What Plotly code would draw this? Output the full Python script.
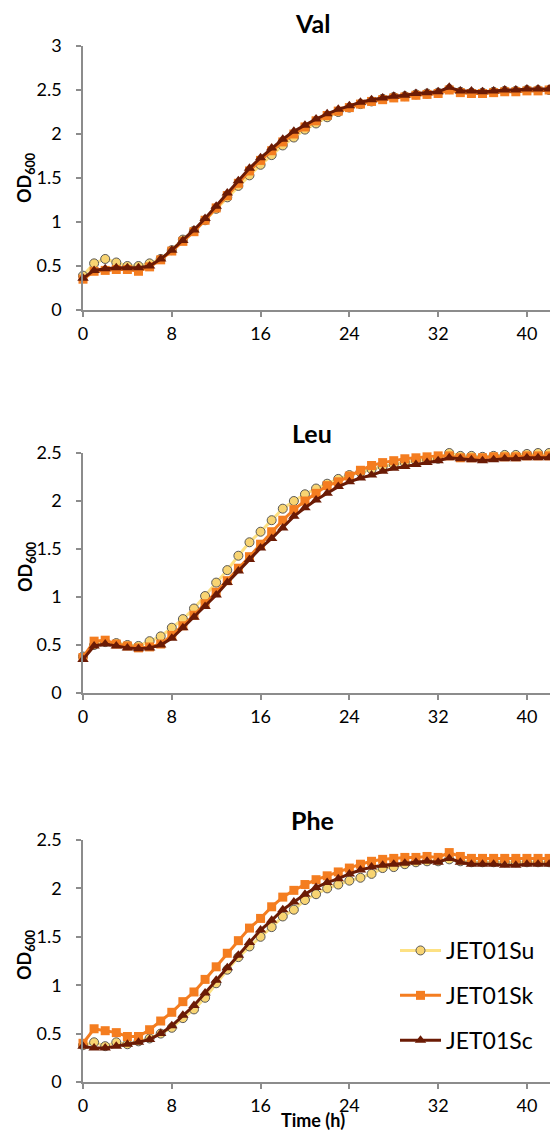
import plotly.graph_objects as go

hours = list(range(0, 44))

# OD600 readings
val_su = [0.39, 0.53, 0.58, 0.54, 0.50, 0.50, 0.53, 0.58, 0.68, 0.80,
          0.90, 1.02, 1.15, 1.28, 1.41, 1.53, 1.65, 1.76, 1.87, 1.96,
          2.05, 2.12, 2.19, 2.25, 2.30, 2.34, 2.37, 2.40, 2.42, 2.43,
          2.45, 2.46, 2.47, 2.51, 2.48, 2.47, 2.47, 2.48, 2.49, 2.49,
          2.50, 2.50, 2.50, 2.50]
val_sk = [0.35, 0.44, 0.45, 0.46, 0.46, 0.44, 0.49, 0.57, 0.67, 0.78,
          0.89, 1.02, 1.16, 1.30, 1.44, 1.58, 1.70, 1.81, 1.91, 2.00,
          2.08, 2.15, 2.21, 2.26, 2.30, 2.34, 2.37, 2.39, 2.41, 2.42,
          2.44, 2.45, 2.46, 2.50, 2.47, 2.46, 2.46, 2.47, 2.48, 2.48,
          2.49, 2.49, 2.50, 2.50]
val_sc = [0.36, 0.45, 0.47, 0.48, 0.48, 0.48, 0.50, 0.58, 0.68, 0.79,
          0.91, 1.04, 1.18, 1.33, 1.47, 1.61, 1.73, 1.84, 1.94, 2.03,
          2.10, 2.17, 2.23, 2.28, 2.32, 2.36, 2.39, 2.41, 2.43, 2.44,
          2.46, 2.47, 2.48, 2.53, 2.49, 2.49, 2.48, 2.49, 2.50, 2.50,
          2.51, 2.51, 2.51, 2.51]

leu_su = [0.38, 0.50, 0.53, 0.52, 0.50, 0.49, 0.54, 0.59, 0.68, 0.77,
          0.88, 1.01, 1.15, 1.28, 1.43, 1.57, 1.68, 1.80, 1.92, 2.00,
          2.07, 2.13, 2.18, 2.23, 2.27, 2.30, 2.33, 2.36, 2.38, 2.40,
          2.42, 2.43, 2.44, 2.50, 2.47, 2.47, 2.46, 2.47, 2.48, 2.48,
          2.49, 2.50, 2.50, 2.49]
leu_sk = [0.37, 0.54, 0.55, 0.51, 0.49, 0.47, 0.48, 0.51, 0.60, 0.70,
          0.81, 0.93, 1.05, 1.17, 1.30, 1.42, 1.55, 1.68, 1.80, 1.91,
          2.00, 2.08, 2.16, 2.20, 2.26, 2.32, 2.37, 2.40, 2.42, 2.44,
          2.45, 2.46, 2.47, 2.47, 2.45, 2.45, 2.45, 2.46, 2.46, 2.46,
          2.47, 2.47, 2.47, 2.47]
leu_sc = [0.35, 0.49, 0.51, 0.49, 0.47, 0.46, 0.47, 0.50, 0.57, 0.68,
          0.79, 0.90, 1.02, 1.15, 1.27, 1.39, 1.51, 1.61, 1.72, 1.84,
          1.93, 2.01, 2.08, 2.15, 2.20, 2.24, 2.27, 2.31, 2.34, 2.36,
          2.38, 2.40, 2.42, 2.45, 2.44, 2.43, 2.42, 2.43, 2.44, 2.44,
          2.45, 2.45, 2.45, 2.45]

phe_su = [0.38, 0.41, 0.37, 0.41, 0.39, 0.42, 0.45, 0.50, 0.56, 0.66,
          0.75, 0.87, 1.02, 1.16, 1.29, 1.40, 1.50, 1.60, 1.71, 1.78,
          1.88, 1.94, 2.00, 2.04, 2.08, 2.11, 2.15, 2.21, 2.22, 2.25,
          2.27, 2.28, 2.28, 2.30, 2.28, 2.27, 2.27, 2.27, 2.27, 2.27,
          2.27, 2.27, 2.27, 2.27]
phe_sk = [0.40, 0.55, 0.53, 0.51, 0.47, 0.47, 0.54, 0.63, 0.72, 0.83,
          0.93, 1.06, 1.19, 1.33, 1.46, 1.59, 1.69, 1.81, 1.91, 1.98,
          2.04, 2.09, 2.13, 2.17, 2.21, 2.25, 2.28, 2.30, 2.31, 2.32,
          2.32, 2.33, 2.32, 2.37, 2.33, 2.31, 2.31, 2.31, 2.31, 2.31,
          2.31, 2.31, 2.31, 2.31]
phe_sc = [0.37, 0.35, 0.35, 0.37, 0.39, 0.41, 0.44, 0.50, 0.58, 0.69,
          0.79, 0.92, 1.05, 1.18, 1.31, 1.44, 1.57, 1.67, 1.78, 1.86,
          1.94, 2.01, 2.06, 2.10, 2.15, 2.19, 2.22, 2.24, 2.25, 2.26,
          2.27, 2.28, 2.27, 2.31, 2.27, 2.25, 2.25, 2.25, 2.24, 2.24,
          2.25, 2.25, 2.25, 2.25]

panel_titles = ['Val', 'Leu', 'Phe']
strains = ['JET01Su', 'JET01Sk', 'JET01Sc']
panels = [
    [val_su, val_sk, val_sc],
    [leu_su, leu_sk, leu_sc],
    [phe_su, phe_sk, phe_sc],
]
y_max = [3, 2.5, 2.5]
x_ticks = [0, 8, 16, 24, 32, 40]

# styles per strain
line_colors = ['#FDE183', '#F47D20', '#6B1B05']
marker_colors = ['#F8D472', '#F47D20', '#6B1B05']
symbols = ['circle', 'square', 'triangle-up']
marker_sizes = [9, 9, 10]
marker_lines = [dict(color='#595959', width=1), dict(width=0), dict(width=0)]

# the page body has an 8px margin, so the figure is 8px smaller than the window
OFF = 8
W, H = 558 - OFF, 1137 - OFF
left = 83 - OFF
# plot area pixel tops / bottoms (window pixels) for the three panels
tops = [46, 453, 840]
bottoms = [310, 693, 1082]


def px(x):
    return (x - OFF - left) / (W - left)


def py(y):
    return 1 - (y - OFF) / H


fig = go.Figure()

for p in range(3):
    suffix = '' if p == 0 else str(p + 1)
    for s in range(3):
        fig.add_trace(go.Scatter(
            x=hours,
            y=panels[p][s],
            name=strains[s],
            mode='lines+markers',
            line=dict(color=line_colors[s], width=3),
            marker=dict(symbol=symbols[s], size=marker_sizes[s],
                        color=marker_colors[s], line=marker_lines[s]),
            xaxis='x' + suffix,
            yaxis='y' + suffix,
            cliponaxis=False,
            showlegend=(p == 2),
            legendgroup=strains[s],
        ))

axis_color = '#8C8C8C'
tick_font = dict(family='Lato', size=18, color='#000000')

layout = dict(
    width=W, height=H,
    margin=dict(l=left, r=0, t=0, b=0),
    plot_bgcolor='white',
    paper_bgcolor='white',
    font=dict(family='Lato', color='#000000'),
    showlegend=True,
    legend=dict(
        x=px(395), y=py(929),
        xanchor='left', yanchor='top',
        font=dict(family='Lato', size=23, color='#000000'),
        bgcolor='rgba(0,0,0,0)',
        tracegroupgap=12,
        traceorder='grouped',
        itemwidth=41,
    ),
)

annotations = []
for p in range(3):
    suffix = '' if p == 0 else str(p + 1)
    ydom = [py(bottoms[p]), py(tops[p])]
    layout['xaxis' + suffix] = dict(
        domain=[0, 1], range=[0, 42.8], anchor='y' + suffix,
        tickvals=x_ticks, ticks='outside', ticklen=5, tickwidth=1.5,
        tickcolor=axis_color, showline=True, linecolor=axis_color,
        linewidth=1.5, showgrid=False, zeroline=False, automargin=False,
        tickfont=tick_font, ticklabelstandoff=2,
    )
    layout['yaxis' + suffix] = dict(
        domain=ydom, range=[0, y_max[p]], anchor='x' + suffix,
        tick0=0, dtick=0.5, ticks='outside', ticklen=5, tickwidth=1.5,
        tickcolor=axis_color, showline=True, linecolor=axis_color,
        linewidth=1.5, showgrid=False, zeroline=False, automargin=False,
        tickfont=tick_font, ticklabelstandoff=11,
    )
    title_y = [23, 433, 820][p]
    annotations.append(dict(
        text='<b>' + panel_titles[p] + '</b>', xref='paper', yref='paper',
        x=px(312), y=py(title_y),
        showarrow=False, font=dict(family='Lato', size=25, color='#000000'),
        xanchor='center', yanchor='middle',
    ))
    od_y = [178, 567, 955][p]
    annotations.append(dict(
        text='<b>OD<sub>600</sub></b>', xref='paper', yref='paper',
        x=px(26), y=py(od_y), textangle=-90,
        showarrow=False, font=dict(family='Lato', size=18, color='#000000'),
        xanchor='center', yanchor='middle',
    ))

annotations.append(dict(
    text='<b>Time (h)</b>', xref='paper', yref='paper',
    x=px(313), y=py(1120),
    showarrow=False, font=dict(family='Lato', size=18, color='#000000'),
    xanchor='center', yanchor='middle',
))
layout['annotations'] = annotations

fig.update_layout(**layout)

fig.write_html("out.html")
